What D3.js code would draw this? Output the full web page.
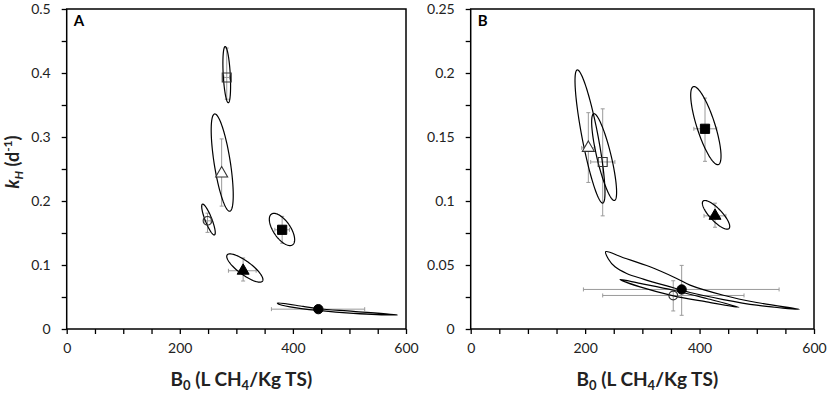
<!DOCTYPE html>
<html>
<head>
<meta charset="utf-8">
<script src="https://cdn.jsdelivr.net/npm/d3@7"></script>
<style>
  body { margin: 0; background: #fff; }
  text { font-family: Lato, "Open Sans", sans-serif; }
</style>
</head>
<body>
<svg id="chart" width="829" height="394"></svg>
<script>
// marker order is the same in both panels
var markers = ["openSquare", "openTriangle", "openCircle", "filledSquare", "filledTriangle", "filledCircle"];

// panel A: B0 (L CH4/kg TS), kH (1/d) and their error bars
var b0A   = [283, 274, 249, 381, 312, 445];
var kHA   = [0.393, 0.243, 0.169, 0.155, 0.091, 0.031];
var b0LoA = [278, 271, 243, 368, 286, 362];
var b0HiA = [288, 277, 255, 394, 335, 527];
var kHLoA = [0.359, 0.192, 0.151, 0.134, 0.075, 0.029];
var kHHiA = [0.439, 0.297, 0.181, 0.176, 0.111, 0.033];
// confidence regions: [centre B0, centre kH, B0 half-width, kH half-height, correlation]
var ellA = [
  [283, 0.3975, 6.8, 0.0439, -0.4],
  [275, 0.26, 19.5, 0.076, -0.67],
  [250.7, 0.171, 12, 0.0241, -0.85],
  [380.7, 0.1555, 22.4, 0.0252, -0.63],
  [315, 0.0953, 32, 0.0221, -0.82],
  null
];
// non-elliptic region (filled circle, panel A)
var regionA_fc = [[372.5,0.0405],[418,0.0353],[445,0.0316],[507,0.0275],[585,0.0220],
                  [507,0.0245],[445,0.0290],[395,0.0347],[374,0.0392]];

// panel B
var b0B   = [230.7, 205.6, 354, 409.5, 427, 368.7];
var kHB   = [0.1305, 0.1415, 0.0262, 0.1564, 0.0884, 0.0309];
var b0LoB = [209.7, 194, 230.7, 390, 407.8, 197];
var b0HiB = [252, 217, 477.7, 430, 446, 539];
var kHLoB = [0.0884, 0.1145, 0.0141, 0.131, 0.0795, 0.0107];
var kHHiB = [0.172, 0.169, 0.0377, 0.1804, 0.0983, 0.0497];
var ellB = [
  [233.2, 0.1343, 21.8, 0.0339, -0.81],
  [208.5, 0.1504, 26.2, 0.052, -0.84],
  null,
  [411, 0.1589, 26.5, 0.0305, -0.78],
  [428.8, 0.0892, 23.9, 0.0112, -0.81],
  null
];
var regionB_fc = [[235.9,0.0604],[266.8,0.0557],[313.4,0.0486],[360,0.0395],[383.3,0.0343],
                  [441.6,0.0264],[499.8,0.0207],[574.4,0.0154],
                  [499.8,0.0186],[441.6,0.0230],[383.3,0.0285],[354.2,0.0322],
                  [301.8,0.0390],[272.6,0.0434],[252.2,0.0486],[240.6,0.0547]];
var regionB_oc = [[261,0.0387],[295.9,0.0356],[354.2,0.0303],[412.4,0.0238],[469,0.0170],
                  [412.4,0.0212],[354.2,0.0259],[295.9,0.0329],[266.8,0.0374]];

var svg = d3.select("#chart");

function drawPanel(o) {
  var x = d3.scaleLinear().domain([0, 600]).range([o.left, o.right]);
  var y = d3.scaleLinear().domain([0, o.yMax]).range([o.bottom, o.top]);
  var g = svg.append("g");

  var isLabel = function(d, step) { return Math.abs(d / step - Math.round(d / step)) < 1e-6; };

  var xa = g.append("g").attr("transform", "translate(0," + o.bottom + ")")
    .call(d3.axisBottom(x).tickValues(d3.range(0, 601, 50)).tickSize(5).tickSizeOuter(0).tickPadding(9)
      .tickFormat(function(d) { return d % 200 === 0 ? d : ""; }));
  var ya = g.append("g").attr("transform", "translate(" + o.left + ",0)")
    .call(d3.axisLeft(y).tickValues(d3.range(0, o.yMax + 1e-9, o.yStep)).tickSize(5).tickSizeOuter(0).tickPadding(11)
      .tickFormat(function(d) { return isLabel(d, o.yLabelStep) ? String(+d.toFixed(3)) : ""; }));
  [xa, ya].forEach(function(a) {
    a.select(".domain").remove();
    a.selectAll(".tick line").attr("stroke", "#000").attr("stroke-width", 1.3);
    a.selectAll(".tick text").attr("fill", "#222").style("font-size", "14px");
  });

  g.append("rect")
    .attr("x", o.left).attr("y", o.top)
    .attr("width", o.right - o.left).attr("height", o.bottom - o.top)
    .attr("fill", "none").attr("stroke", "#000").attr("stroke-width", 1.5);

  g.append("text").attr("x", o.left + 7).attr("y", o.top + 17)
    .style("font-size", "15px").style("font-weight", "bold").text(o.label);

  // error bars
  var cap = 2;
  var eb = g.append("g").attr("stroke", "#9a9a9a").attr("stroke-width", 1).attr("fill", "none");
  markers.forEach(function(m, i) {
    var cx = x(o.b0[i]), cy = y(o.kH[i]);
    var xl = x(o.b0Lo[i]), xh = x(o.b0Hi[i]), yl = y(o.kHLo[i]), yh = y(o.kHHi[i]);
    eb.append("path").attr("d",
      "M" + xl + "," + cy + "H" + xh +
      "M" + xl + "," + (cy - cap) + "V" + (cy + cap) +
      "M" + xh + "," + (cy - cap) + "V" + (cy + cap) +
      "M" + cx + "," + yl + "V" + yh +
      "M" + (cx - cap) + "," + yl + "H" + (cx + cap) +
      "M" + (cx - cap) + "," + yh + "H" + (cx + cap));
  });

  // confidence regions
  var line = d3.line().x(function(p) { return x(p[0]); }).y(function(p) { return y(p[1]); });
  var rg = g.append("g").attr("fill", "none").attr("stroke", "#000").attr("stroke-width", 1.2);
  o.ell.forEach(function(e) {
    if (!e) return;
    var r = Math.sqrt(1 - e[4] * e[4]);
    var pts = d3.range(0, 2 * Math.PI, Math.PI / 60).map(function(t) {
      return [e[0] + e[2] * Math.cos(t), e[1] + e[3] * (e[4] * Math.cos(t) + r * Math.sin(t))];
    });
    rg.append("path").attr("d", line.curve(d3.curveLinearClosed)(pts));
  });
  o.regions.forEach(function(pts) {
    rg.append("path").attr("d", line.curve(d3.curveCatmullRomClosed.alpha(0.5))(pts));
  });

  // markers
  var shape = {
    openSquare: [d3.symbolSquare, 80], filledSquare: [d3.symbolSquare, 85],
    openTriangle: [d3.symbolTriangle, 62], filledTriangle: [d3.symbolTriangle, 62],
    openCircle: [d3.symbolCircle, 60], filledCircle: [d3.symbolCircle, 68]
  };
  markers.forEach(function(m, i) {
    var open = m.indexOf("open") === 0;
    g.append("path")
      .attr("d", d3.symbol().type(shape[m][0]).size(shape[m][1])())
      .attr("transform", "translate(" + x(o.b0[i]) + "," + y(o.kH[i]) + ")")
      .attr("fill", open ? (m === "openTriangle" ? "#fff" : "none") : "#000")
      .attr("stroke", open ? "#333" : "#000")
      .attr("stroke-width", open ? 1.1 : 1);
  });

  // x title
  var xt = g.append("text").attr("x", (o.left + o.right) / 2 + 5).attr("y", 386)
    .attr("text-anchor", "middle").style("font-size", "19px").style("font-weight", "bold").attr("fill", "#222");
  xt.append("tspan").text("B");
  xt.append("tspan").attr("dy", 4).style("font-size", "13px").text("0");
  xt.append("tspan").attr("dy", -4).text(" (L CH");
  xt.append("tspan").attr("dy", 4).style("font-size", "13px").text("4");
  xt.append("tspan").attr("dy", -4).text("/Kg TS)");
}

drawPanel({
  left: 66.7, right: 406, top: 9, bottom: 329, yMax: 0.5, yStep: 0.05, yLabelStep: 0.1, label: "A",
  b0: b0A, kH: kHA, b0Lo: b0LoA, b0Hi: b0HiA, kHLo: kHLoA, kHHi: kHHiA, ell: ellA, regions: [regionA_fc]
});
drawPanel({
  left: 470.7, right: 814, top: 9, bottom: 329, yMax: 0.25, yStep: 0.025, yLabelStep: 0.05, label: "B",
  b0: b0B, kH: kHB, b0Lo: b0LoB, b0Hi: b0HiB, kHLo: kHLoB, kHHi: kHHiB, ell: ellB, regions: [regionB_fc, regionB_oc]
});

// y title (panel A only)
var yt = svg.append("text").attr("transform", "translate(19,162) rotate(-90)")
  .attr("text-anchor", "middle").style("font-size", "18px").style("font-weight", "bold").attr("fill", "#222");
yt.append("tspan").style("font-style", "italic").text("k");
yt.append("tspan").attr("dy", 4).style("font-style", "italic").style("font-size", "12px").text("H");
yt.append("tspan").attr("dy", -4).text(" (d");
yt.append("tspan").attr("dy", -7).style("font-size", "12px").text("-1");
yt.append("tspan").attr("dy", 7).text(")");
</script>
</body>
</html>
